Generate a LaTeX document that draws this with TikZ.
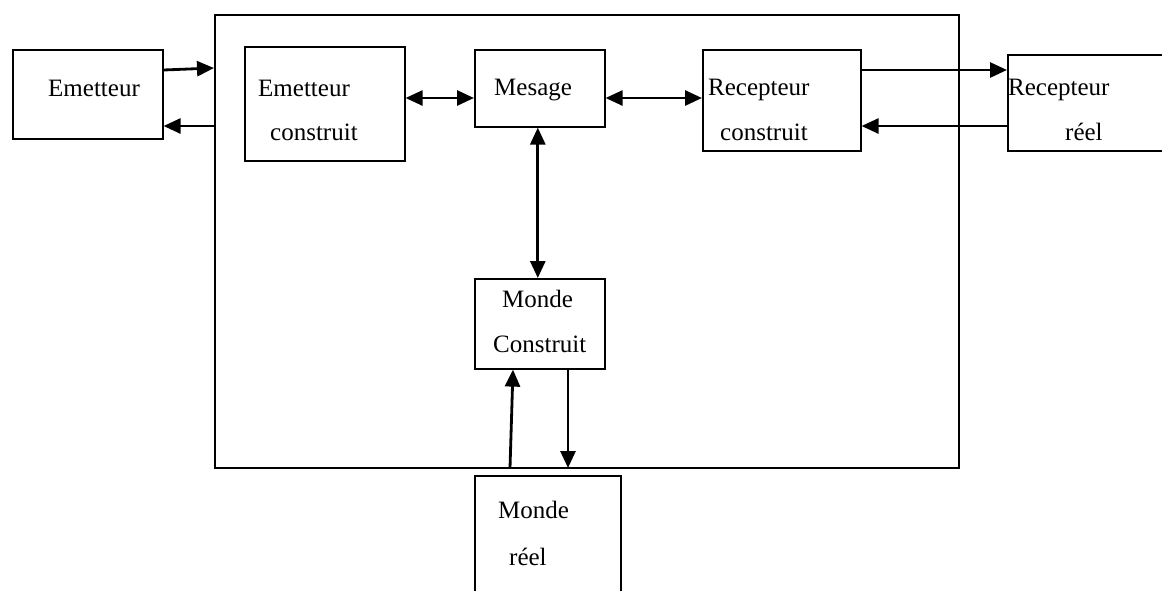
\documentclass[tikz,border=0pt]{standalone}
\usepackage{fontspec}
\setmainfont{Liberation Serif}
\usetikzlibrary{arrows.meta}

\begin{document}
\begin{tikzpicture}[x=1pt,y=-1pt,
  bloc/.style={draw, line width=1.6pt, anchor=north west, inner sep=0pt},
  txt/.style={anchor=base west, inner sep=0pt},
  fl/.style={line width=2.8pt, -{Triangle[length=17pt,width=15pt]}},
  dfl/.style={line width=2.8pt, {Triangle[length=17pt,width=15pt]}-{Triangle[length=17pt,width=15pt]}}]
  \fontsize{25}{30}\selectfont
  \useasboundingbox (0,0) rectangle (1162,590);
  \clip (0,0) rectangle (1162,590);
  % boites
  \node[bloc, minimum width=744pt, minimum height=453pt] (Cadre) at (214,14) {};
  \node[bloc, minimum width=150pt, minimum height=89pt] (Emetteur) at (12,49) {};
  \node[bloc, minimum width=160pt, minimum height=114pt] (EmetteurC) at (244,46) {};
  \node[bloc, minimum width=130pt, minimum height=77pt] (Mesage) at (474,49) {};
  \node[bloc, minimum width=158pt, minimum height=101pt] (RecepteurC) at (702,49) {};
  \node[bloc, minimum width=183pt, minimum height=96pt] (RecepteurR) at (1007,54) {};
  \node[bloc, minimum width=130pt, minimum height=90pt] (MondeC) at (474,278) {};
  \node[bloc, minimum width=146pt, minimum height=145pt] (MondeR) at (474,475) {};
  % textes
  \node[txt] (tEmetteur) at (48,96) {Emetteur};
  \node[txt] (tEmetteurC1) at (258,96) {Emetteur};
  \node[txt] (tEmetteurC2) at (270,140) {construit};
  \node[txt] (tMesage) at (494,95) {Mesage};
  \node[txt] (tRecepteurC1) at (708,95) {Recepteur};
  \node[txt] (tRecepteurC2) at (720,140) {construit};
  \node[txt] (tRecepteurR1) at (1008,95) {Recepteur};
  \node[txt] (tRecepteurR2) at (1065,140) {réel};
  \node[txt] (tMondeC1) at (502,307) {Monde};
  \node[txt] (tMondeC2) at (493,352) {Construit};
  \node[txt] (tMondeR1) at (498,518) {Monde};
  \node[txt] (tMondeR2) at (509,565) {réel};
  % fleches
  \draw[fl] ([yshift=-21pt]Emetteur.north east) -- ([yshift=-54pt]Cadre.north west);
  \draw[fl] ([yshift=-112pt]Cadre.north west) -- ([yshift=-77pt]Emetteur.north east);
  \draw[dfl] ([yshift=-52pt]EmetteurC.north east) -- ([yshift=-49pt]Mesage.north west);
  \draw[dfl] ([yshift=-49pt]Mesage.north east) -- ([yshift=-49pt]RecepteurC.north west);
  \draw[fl] ([yshift=-21pt]RecepteurC.north east) -- ([yshift=-16pt]RecepteurR.north west);
  \draw[fl] ([yshift=-72pt]RecepteurR.north west) -- ([yshift=-77pt]RecepteurC.north east);
  \draw[dfl] ([xshift=-2pt]Mesage.south) -- ([xshift=-2pt]MondeC.north);
  \draw[fl] ([xshift=36pt,yshift=7pt]MondeR.north west) -- ([xshift=39pt]MondeC.south west);
  \draw[fl] ([xshift=94pt]MondeC.south west) -- ([xshift=94pt,yshift=7pt]MondeR.north west);
\end{tikzpicture}
\end{document}
